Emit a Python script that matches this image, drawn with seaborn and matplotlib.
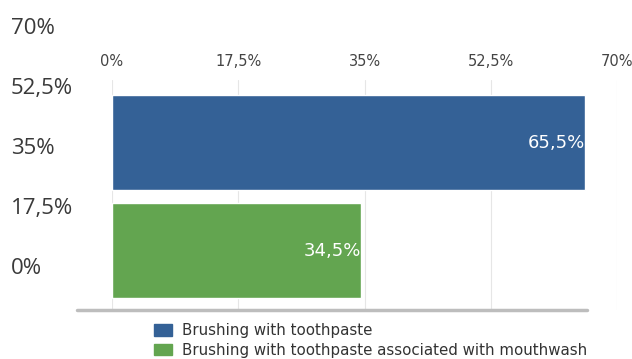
import seaborn as sns
import matplotlib.pyplot as plt
import pandas as pd

# data
categories = ['Brushing with toothpaste', 'Brushing with toothpaste associated with mouthwash']
values = [65.5, 34.5]
value_labels = ['65,5%', '34,5%']
bar_colors = ['#346196', '#63a550']
tick_values = [0, 17.5, 35, 52.5, 70]
tick_labels = ['0%', '17,5%', '35%', '52,5%', '70%']

sns.set_style('white')
plt.rcParams['font.family'] = ['DejaVu Sans']

df = pd.DataFrame({'category': categories, 'value': values})

fig = plt.figure(figsize=(6.32, 3.59), dpi=100)

# main bar axes
ax = fig.add_axes([112 / 632, 1 - 310 / 359, 505 / 632, 230 / 359])
sns.barplot(data=df, x='value', y='category', hue='category', palette=bar_colors,
            width=0.88, legend=False, ax=ax, saturation=1)
ax.set_xlim(0, 70)
ax.set_ylim(1.55, -0.58)
ax.set_xticks(tick_values)
ax.set_xticklabels(tick_labels)
ax.xaxis.tick_top()
ax.tick_params(axis='x', length=0, pad=8, labelsize=10.5, labelcolor='#444444')
ax.set_yticks([])
ax.set_xlabel('')
ax.set_ylabel('')
ax.grid(axis='x', color='#e6e6e6', linewidth=0.8)
ax.set_axisbelow(True)
for side in ['top', 'left', 'right', 'bottom']:
    ax.spines[side].set_visible(False)
# grey base line, a bit wider on the left like the original
ax.axhline(1.55, xmin=-0.07, xmax=0.94, color='#bdbdbd', linewidth=2.5, clip_on=False)

# value labels inside the bars
for i, (v, lab) in enumerate(zip(values, value_labels)):
    ax.text(v, i, lab, ha='right', va='center', color='white', fontsize=13)

# left side scale labels
ax_left = fig.add_axes([10 / 632, 1 - 266 / 359, 0.001, 240 / 359])
ax_left.set_ylim(0, 70)
ax_left.set_yticks(tick_values)
ax_left.set_yticklabels(tick_labels, family='Open Sans')
ax_left.yaxis.tick_right()
ax_left.tick_params(axis='y', length=0, pad=0, labelsize=16, labelcolor='#3a3a3a')
ax_left.set_xticks([])
for s in ax_left.spines.values():
    s.set_visible(False)

# legend
handles = [plt.Rectangle((0, 0), 1, 1, color=c) for c in bar_colors]
fig.legend(handles, categories, loc='upper left', bbox_to_anchor=(154 / 632, 1 - 323 / 359),
           frameon=False, fontsize=10.8, labelcolor='#333333', handlelength=1.2,
           handleheight=0.8, handletextpad=0.7, labelspacing=0.3, borderpad=0,
           borderaxespad=0)

fig.savefig('out.png', dpi=100)
